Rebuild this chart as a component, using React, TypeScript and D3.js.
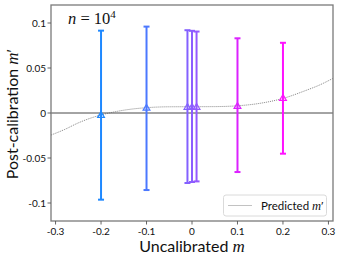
import React from "react";
import * as d3 from "d3";

// error bar data
const mValues = [-0.2, -0.1, -0.01, 0, 0.01, 0.1, 0.2];
const mPrime = [-0.002, 0.006, 0.007, 0.007, 0.007, 0.008, 0.017];
const upper = [0.0915, 0.096, 0.092, 0.0913, 0.0905, 0.083, 0.078];
const lower = [-0.0963, -0.0856, -0.0778, -0.0767, -0.076, -0.0656, -0.0452];
const barColors = ["#1e88ff", "#4b78ff", "#8461ff", "#8c5dff", "#9559ff", "#dc22ff", "#ff12ff"];

// predicted m' curve, read at a handful of points
const predX = [-0.31, -0.28, -0.25, -0.22, -0.2, -0.15, -0.1, -0.05, 0, 0.05, 0.1, 0.15, 0.2, 0.25, 0.28, 0.31];
const predY = [-0.0245, -0.0183, -0.011, -0.0052, -0.0022, 0.0031, 0.0059, 0.0069, 0.007, 0.0071, 0.008, 0.0108, 0.0162, 0.025, 0.031, 0.0385];

const xTicks = [-0.3, -0.2, -0.1, 0, 0.1, 0.2, 0.3];
const yTicks = [-0.1, -0.05, 0, 0.05, 0.1];

const W = 338, H = 259;
const L = 51, R = 333, T = 5, B = 221;
const sans = "Lato, 'DejaVu Sans', sans-serif";
const serif = "'Liberation Serif', 'DejaVu Serif', serif";

function fmt(v: number) {
  if (v === 0) return "0";
  return String(+v.toFixed(2));
}

export default function App() {
  const x = d3.scaleLinear().domain([-0.31, 0.31]).range([L, R]);
  const y = d3.scaleLinear().domain([-0.12, 0.12]).range([B, T]);

  const line = d3.line<number>()
    .x((d, i) => x(predX[i]))
    .y((d) => y(d))
    .curve(d3.curveMonotoneX);

  return (
    <svg width={W} height={H} style={{ position: "absolute", left: 0, top: 0, background: "#fff" }}>
      <defs>
        <clipPath id="plotArea">
          <rect x={L} y={T} width={R - L} height={B - T} />
        </clipPath>
      </defs>

      {/* zero line */}
      <line x1={L} x2={R} y1={y(0)} y2={y(0)} stroke="#333" strokeWidth={0.9} />

      {/* predicted curve */}
      <path d={line(predY) || ""} fill="none" stroke="#666" strokeWidth={0.8}
        strokeDasharray="1,1" clipPath="url(#plotArea)" />

      {/* error bars */}
      {mValues.map((m, i) => {
        const cx = x(m);
        const c = barColors[i];
        const cy = y(mPrime[i]);
        return (
          <g key={i}>
            <line x1={cx} x2={cx} y1={y(upper[i])} y2={y(lower[i])} stroke={c} strokeWidth={2} />
            <line x1={cx - 3} x2={cx + 3} y1={y(upper[i])} y2={y(upper[i])} stroke={c} strokeWidth={2} />
            <line x1={cx - 3} x2={cx + 3} y1={y(lower[i])} y2={y(lower[i])} stroke={c} strokeWidth={2} />
            <path d={`M${cx},${cy - 3.2}L${cx - 3.4},${cy + 2.6}L${cx + 3.4},${cy + 2.6}Z`}
              fill="none" stroke={c} strokeWidth={1.2} />
          </g>
        );
      })}

      {/* frame */}
      <rect x={L} y={T} width={R - L} height={B - T} fill="none" stroke="#7a7a7a" strokeWidth={1.3} />

      {/* y ticks */}
      {yTicks.map((t) => (
        <g key={t}>
          <line x1={L - 3.5} x2={L} y1={y(t)} y2={y(t)} stroke="#555" strokeWidth={0.9} />
          <text x={L - 5} y={y(t)} dy="0.35em" textAnchor="end" fontFamily={sans} fontSize={10} fill="#111">
            {fmt(t)}
          </text>
        </g>
      ))}

      {/* x ticks */}
      {xTicks.map((t) => (
        <g key={t}>
          <line x1={x(t)} x2={x(t)} y1={B} y2={B + 3.5} stroke="#555" strokeWidth={0.9} />
          <text x={x(t)} y={B + 14} textAnchor="middle" fontFamily={sans} fontSize={10} fill="#111">
            {fmt(t)}
          </text>
        </g>
      ))}

      {/* axis labels */}
      <text x={(L + R) / 2} y={251.5} textAnchor="middle" fontFamily={sans} fontSize={16} fill="#111">
        Uncalibrated <tspan fontFamily={serif} fontStyle="italic" fontSize={17}>m</tspan>
      </text>
      <text transform={`translate(17.5,${(T + B) / 2 + 1}) rotate(-90)`} textAnchor="middle" fontFamily={sans} fontSize={16} fill="#111">
        Post-calibration <tspan fontFamily={serif} fontStyle="italic" fontSize={17}>m</tspan>
        <tspan fontFamily={serif} fontSize={17}>′</tspan>
      </text>

      {/* n = 10^4 */}
      <text x={68} y={24} fontFamily={serif} fontSize={16.5} fill="#111">
        <tspan fontStyle="italic">n</tspan> = 10<tspan fontSize={11} dy={-6.5}>4</tspan>
      </text>

      {/* legend */}
      <g>
        <rect x={223.5} y={195} width={103} height={21} rx={2.5} fill="#fff" fillOpacity={0.85}
          stroke="#d6d6d6" strokeWidth={0.9} />
        <line x1={228.5} x2={251.5} y1={205.5} y2={205.5} stroke="#666" strokeWidth={0.8} strokeDasharray="1,1" />
        <text x={261} y={209.5} fontFamily={sans} fontSize={11.5} fill="#111">
          Predicted <tspan fontFamily={serif} fontStyle="italic" fontSize={12.5}>m</tspan>
          <tspan fontFamily={serif} fontSize={12.5}>′</tspan>
        </text>
      </g>
    </svg>
  );
}
